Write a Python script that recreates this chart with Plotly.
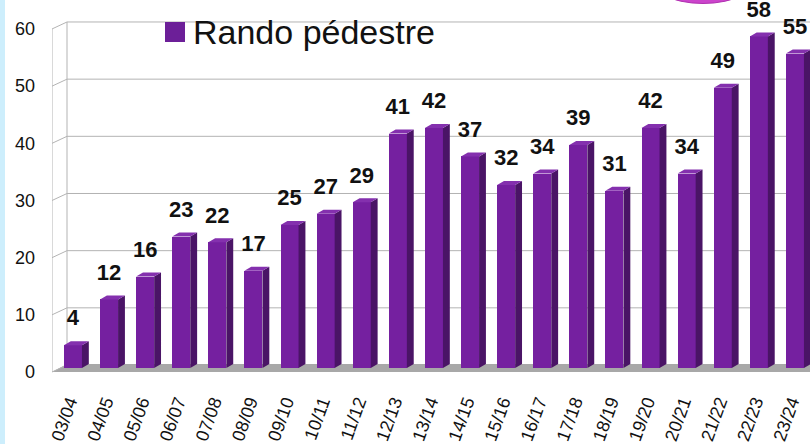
import plotly.graph_objects as go

CATEGORIES = ["03/04", "04/05", "05/06", "06/07", "07/08", "08/09", "09/10", "10/11",
              "11/12", "12/13", "13/14", "14/15", "15/16", "16/17", "17/18", "18/19",
              "19/20", "20/21", "21/22", "22/23", "23/24"]
VALUES = [4, 12, 16, 23, 22, 17, 25, 27, 29, 41, 42, 37, 32, 34, 39, 31, 42, 34, 49, 58, 55]
Y_TICKS = [0, 10, 20, 30, 40, 50, 60]
SERIES_NAME = "Rando pédestre"

FONT = "Liberation Sans, Arial, sans-serif"
FRONT = "#7520a0"
SIDE = "#4a1466"
TOP = "#8430ae"
GRID = "#b3b3b3"

W, H = 810, 444
ML, MB, MT, MR = 52, 64, 0, 0
PLOT_W = W - ML - MR
PLOT_H = H - MT - MB
PX_PER_CAT = 36.1
X0 = -0.68
X1 = X0 + PLOT_W / PX_PER_CAT
PX_PER_UNIT = 5.717
Y0 = -(MT + PLOT_H - 368) / PX_PER_UNIT
Y1 = Y0 + PLOT_H / PX_PER_UNIT

FRONT_OFF, FRONT_W = -0.35, 0.5
DEPTH_X, DEPTH_Y = 0.19, 0.7


def dx(px):
    return X0 + (px - ML) / PX_PER_CAT


def dy(py):
    return (MT + PLOT_H - py) / PX_PER_UNIT + Y0


def px_(px):
    return (px - ML) / PLOT_W


def py_(py):
    return (MT + PLOT_H - py) / PLOT_H


idx = list(range(len(CATEGORIES)))

fig = go.Figure()
fig.add_trace(go.Bar(x=idx, y=VALUES, width=FRONT_W, offset=FRONT_OFF,
                     marker=dict(color=FRONT, line=dict(width=0)), showlegend=False,
                     hoverinfo="skip"))

# side faces and top faces of the 3-D bars, derived from the values
side_x, side_y, top_x, top_y = [], [], [], []
for i, v in zip(idx, VALUES):
    xr = i + FRONT_OFF + FRONT_W
    xl = i + FRONT_OFF
    side_x += [xr, xr, xr + DEPTH_X, xr + DEPTH_X, xr, None]
    side_y += [0, v, v + DEPTH_Y, DEPTH_Y, 0, None]
    top_x += [xl, xr, xr + DEPTH_X, xl + DEPTH_X, xl, None]
    top_y += [v, v, v + DEPTH_Y, v + DEPTH_Y, v, None]
fig.add_trace(go.Scatter(x=side_x, y=side_y, mode="lines", fill="toself",
                         fillcolor=SIDE, line=dict(width=0, color=SIDE),
                         showlegend=False, hoverinfo="skip"))
fig.add_trace(go.Scatter(x=top_x, y=top_y, mode="lines", fill="toself",
                         fillcolor=TOP, line=dict(width=0, color=TOP),
                         showlegend=False, hoverinfo="skip"))

fig.add_trace(go.Scatter(x=[i - 0.1 for i in idx], y=[v + 4.4 for v in VALUES],
                         mode="text", text=[str(v) for v in VALUES],
                         textposition="middle center",
                         textfont=dict(family=FONT, size=22, color="#111111", weight="bold"),
                         showlegend=False, hoverinfo="skip", cliponaxis=False))

shapes = []
# left blue strip
shapes.append(dict(type="rect", xref="paper", yref="paper", x0=px_(0), x1=px_(5),
                   y0=py_(H), y1=py_(0),
                   fillcolor="#cdeefc", line=dict(width=0), layer="below"))
# floor
shapes.append(dict(type="path", xref="x", yref="y", layer="below",
                   path=f"M {dx(52)},{dy(372)} L {dx(67)},{dy(364)} L {dx(820)},{dy(364)} L {dx(820)},{dy(372)} Z",
                   fillcolor="#a8a8a8", line=dict(width=0)))
# walls and gridlines
for t in Y_TICKS:
    fy = 372 - PX_PER_UNIT * t
    by = 365 - PX_PER_UNIT * t
    shapes.append(dict(type="line", xref="x", yref="y", layer="below",
                       x0=dx(52), y0=dy(fy), x1=dx(67), y1=dy(by), line=dict(color=GRID, width=1)))
    if t > 0:
        shapes.append(dict(type="line", xref="x", yref="y", layer="below",
                           x0=dx(67), y0=dy(by), x1=dx(820), y1=dy(by), line=dict(color=GRID, width=1)))
shapes.append(dict(type="line", xref="x", yref="y", layer="below",
                   x0=dx(52), y0=dy(372), x1=dx(52), y1=dy(372 - PX_PER_UNIT * 60),
                   line=dict(color=GRID, width=1)))
shapes.append(dict(type="line", xref="x", yref="y", layer="below",
                   x0=dx(67), y0=dy(365), x1=dx(67), y1=dy(365 - PX_PER_UNIT * 60),
                   line=dict(color=GRID, width=1)))
# legend square
shapes.append(dict(type="rect", xref="paper", yref="paper",
                   x0=px_(165), x1=px_(185), y0=py_(42), y1=py_(22),
                   fillcolor="#6c1f98", line=dict(width=0)))
# magenta ellipse at top right
shapes.append(dict(type="circle", xref="paper", yref="paper",
                   x0=px_(645), x1=px_(761), y0=py_(-57), y1=py_(3.5),
                   fillcolor="#cc44cc", line=dict(color="#b030b0", width=1)))

annotations = [dict(xref="paper", yref="paper", x=px_(191), y=py_(32), xanchor="left",
                    yanchor="middle", text=SERIES_NAME, showarrow=False,
                    font=dict(family=FONT, size=34, color="#111111"))]

fig.update_layout(
    width=W, height=H,
    margin=dict(l=ML, r=MR, t=MT, b=MB, pad=0, autoexpand=False),
    paper_bgcolor="white", plot_bgcolor="rgba(0,0,0,0)",
    barmode="overlay", bargap=0,
    shapes=shapes, annotations=annotations,
    showlegend=False,
    xaxis=dict(range=[X0, X1], tickvals=[i - 0.2 for i in idx], ticktext=CATEGORIES,
               tickangle=-70, showgrid=False, zeroline=False, showline=False,
               ticks="", ticklabelstandoff=7, automargin=False,
               tickfont=dict(family=FONT, size=18, color="#111111")),
    yaxis=dict(range=[Y0, Y1], tickvals=[t - 0.7 for t in Y_TICKS],
               ticktext=[str(t) for t in Y_TICKS], showgrid=False, zeroline=False,
               showline=False, ticks="", ticklabelstandoff=16, automargin=False,
               tickfont=dict(family=FONT, size=18, color="#111111")),
)

fig.write_html("out.html", config={"displayModeBar": False},
               post_script="document.body.style.margin='0';document.body.style.padding='0';document.body.style.overflow='hidden';")
